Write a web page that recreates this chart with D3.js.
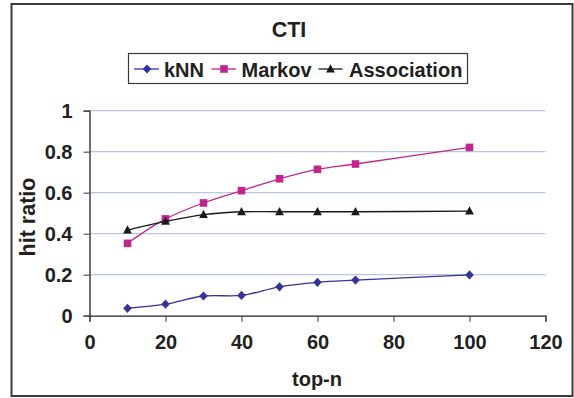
<!DOCTYPE html>
<html><head><meta charset="utf-8">
<script src="https://cdn.jsdelivr.net/npm/d3@7"></script>
<style>
body{margin:0;background:#fff;}
text{font-family:"Liberation Sans",Arial,sans-serif;font-weight:bold;fill:#231f20;}
</style></head>
<body><svg id="c" width="574" height="398"></svg>
<script>
const topN = [10, 20, 30, 40, 50, 60, 70, 100];
const knn = [0.036, 0.056, 0.096, 0.099, 0.141, 0.163, 0.174, 0.199];
const markov = [0.353, 0.472, 0.550, 0.610, 0.668, 0.714, 0.740, 0.821];
const association = [0.418, 0.460, 0.493, 0.507, 0.507, 0.507, 0.507, 0.510];
const xTicks = [0, 20, 40, 60, 80, 100, 120];
const yTicks = [0, 0.2, 0.4, 0.6, 0.8, 1];
const seriesNames = ["kNN", "Markov", "Association"];

const svg = d3.select("#c");
const L = 89.5, R = 545.5, T = 110.7, B = 315.7;
const x = d3.scaleLinear().domain([0, 120]).range([L, R]);
const y = d3.scaleLinear().domain([0, 1]).range([B, T]);

// outer border
svg.append("rect").attr("x", 11.5).attr("y", 4).attr("width", 561).attr("height", 392)
  .attr("fill", "#fff").attr("stroke", "#3a3a3a").attr("stroke-width", 2);

// gridlines
svg.append("g").selectAll("line").data(yTicks.filter(d => d > 0)).join("line")
  .attr("x1", L).attr("x2", R).attr("y1", d => y(d)).attr("y2", d => y(d))
  .attr("stroke", "#b8c6ea").attr("stroke-width", 1.2);

// axes
const xAxis = svg.append("g").attr("transform", `translate(0,${B})`)
  .call(d3.axisBottom(x).tickValues(xTicks).tickSize(6).tickPadding(14).tickFormat(d3.format("d")));
const yAxis = svg.append("g").attr("transform", `translate(${L},0)`)
  .call(d3.axisLeft(y).tickValues(yTicks).tickSize(6).tickPadding(11).tickFormat(d => d === 0 || d === 1 ? d : d.toFixed(1)));
[xAxis, yAxis].forEach(a => {
  a.select(".domain").attr("stroke", "#231f20").attr("stroke-width", 1.3);
  a.selectAll(".tick line").attr("stroke", "#555").attr("stroke-width", 1.2);
  a.selectAll("text").attr("font-size", 20).attr("fill", "#231f20").attr("font-family", "Liberation Sans, Arial, sans-serif").attr("font-weight", "bold");
});
xAxis.selectAll("text").attr("dy", "0.68em");
yAxis.selectAll("text").attr("dy", "0.36em");

// title & axis labels
svg.append("text").attr("x", 289).attr("y", 37).attr("text-anchor", "middle").attr("font-size", 21.5).text("CTI");
svg.append("text").attr("x", 317).attr("y", 386).attr("text-anchor", "middle").attr("font-size", 20).text("top-n");
svg.append("text").attr("transform", "translate(34.5,217) rotate(-90)").attr("text-anchor", "middle").attr("font-size", 21.5).text("hit ratio");

const colors = ["#333399", "#c2258f", "#1a1a1a"];
const data = [knn, markov, association];
const line = d3.line().x((d, i) => x(topN[i])).y(d => y(d)).curve(d3.curveCatmullRom.alpha(0.5));

function marker(g, k, cx, cy) {
  if (k === 0) g.append("path").attr("d", `M${cx},${cy - 4.6}L${cx + 4.3},${cy}L${cx},${cy + 4.6}L${cx - 4.3},${cy}Z`).attr("fill", colors[0]);
  else if (k === 1) g.append("rect").attr("x", cx - 3.8).attr("y", cy - 3.8).attr("width", 7.6).attr("height", 7.6).attr("fill", colors[1]);
  else g.append("path").attr("d", `M${cx},${cy - 4.8}L${cx + 4.4},${cy + 3.4}L${cx - 4.4},${cy + 3.4}Z`).attr("fill", colors[2]);
}

data.forEach((vals, k) => {
  svg.append("path").datum(vals).attr("d", line).attr("fill", "none").attr("stroke", colors[k]).attr("stroke-width", 1.3);
  const g = svg.append("g");
  vals.forEach((v, i) => marker(g, k, x(topN[i]), y(v)));
});

// legend
svg.append("rect").attr("x", 128.5).attr("y", 53.5).attr("width", 339).attr("height", 30)
  .attr("fill", "#fff").attr("stroke", "#3a3a3a").attr("stroke-width", 1.2);
const leg = [
  {x1: 134, x2: 159, m: 147, t: 164},
  {x1: 211.5, x2: 236, m: 224, t: 241.5},
  {x1: 318.5, x2: 342.5, m: 330.5, t: 349}
];
leg.forEach((l, k) => {
  svg.append("line").attr("x1", l.x1).attr("x2", l.x2).attr("y1", 69).attr("y2", 69).attr("stroke", colors[k]).attr("stroke-width", 1.3);
  marker(svg, k, l.m, 69);
  svg.append("text").attr("x", l.t).attr("y", 76.5).attr("font-size", 20).text(seriesNames[k]);
});
</script></body></html>
